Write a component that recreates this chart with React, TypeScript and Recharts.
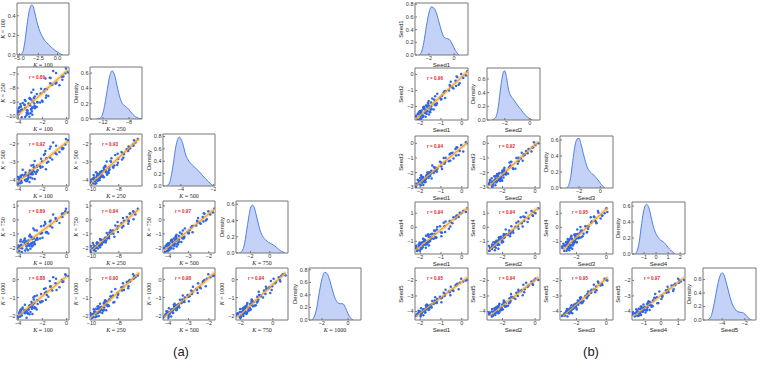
import React from "react";
import { ScatterChart, Scatter, ComposedChart, Area, XAxis, YAxis } from "recharts";

// ---- panel (a): values per K ----
const k100 = [-3.71, -4.02, -3.31, -3.91, -3.07, -4.03, -3.43, -2.99, -3.75, -3.15,
  -3.91, -3.28, -2.63, -3.47, -2.87, -3.79, -2.95, -3.15, -2.66, -3.39,
  -2.84, -3.63, -2.55, -2.79, -3.07, -2.19, -3.04, -2.43, -1.71, -2.91,
  -2.03, -2.46, -1.51, -2.75, -1.67, -2.11, -1.19, -1.79, -1.35, -0.59,
  -1.75, -0.91, -1.32, -0.35, -0.87, -0.27, -1.11, -0.11, 0.12, -0.05,
  -3.98, -3.43, -3.83, -3.19, -3.97, -3.31, -3.67, -2.83, -3.79, -3.22,
  -2.8, -3.5, -2.9, -3.82, -3.01, -2.47, -3.45, -2.67, -2.93, -2.39,
  -3.03, -1.99, -2.71, -2.15, -2.64, -1.63, -1.87, -0.83, -1.39, -0.39];
const k250 = [-10.08, -9.72, -9.93, -9.69, -10.04, -9.62, -9.41, -9.79, -9.55, -9.83,
  -9.37, -9.58, -9.44, -9.2, -9.66, -9.3, -9.48, -9.09, -9.27, -8.92,
  -9.37, -9.06, -9.33, -8.95, -8.74, -9.02, -8.71, -8.99, -8.68, -8.32,
  -8.88, -8.43, -8.57, -8.11, -8.53, -8.04, -7.76, -8.08, -7.66, -7.8,
  -7.31, -7.69, -7.28, -7.41, -6.92, -7.17, -6.78, -6.95, -6.88, -6.6,
  -9.86, -10.06, -9.65, -9.81, -9.46, -9.76, -9.52, -9.89, -9.33, -9.61,
  -9.4, -9.17, -9.55, -9.13, -9.24, -9.35, -8.85, -9.1, -8.81, -9.03,
  -8.78, -8.97, -8.7, -8.39, -8.6, -8.06, -8.25, -7.62, -7.27, -7.2];
const k500 = [-4.15, -4.23, -3.98, -4.05, -4.12, -3.85, -4.03, -3.88, -4.07, -3.73,
  -3.9, -3.75, -3.96, -3.77, -3.58, -3.83, -3.7, -3.86, -3.55, -3.6,
  -3.68, -3.45, -3.66, -3.5, -3.63, -3.25, -3.48, -3.22, -3.42, -3.2,
  -2.98, -3.28, -3.0, -3.18, -2.8, -2.83, -2.87, -2.55, -2.78, -2.45,
  -2.4, -2.53, -2.15, -2.3, -2.1, -2.25, -1.93, -2.03, -1.8, -1.73,
  -4.21, -4.01, -4.19, -3.95, -3.97, -4.08, -3.74, -3.93, -3.78, -4.0,
  -3.69, -3.81, -3.65, -3.84, -3.52, -3.57, -3.72, -3.35, -3.61, -3.47,
  -3.59, -3.27, -3.3, -3.33, -2.95, -3.05, -2.62, -2.58, -2.27, -2.22];
const k750 = [-2.29, -2.02, -2.05, -2.23, -1.87, -2.0, -1.72, -2.06, -1.78, -1.81,
  -1.96, -1.6, -1.75, -1.63, -1.9, -1.42, -1.69, -1.48, -1.73, -1.5,
  -1.36, -1.57, -1.44, -1.61, -1.18, -1.33, -1.15, -1.3, -0.91, -1.2,
  -0.94, -0.76, -0.97, -0.61, -0.88, -0.46, -0.55, -0.16, -0.43, -0.22,
  -0.28, 0.14, -0.04, 0.2, 0.05, 0.47, 0.38, 0.62, 0.53, 0.8,
  -2.03, -2.19, -1.99, -2.17, -1.84, -1.89, -2.04, -1.65, -1.82, -1.68,
  -1.86, -1.46, -1.7, -1.54, -1.77, -1.38, -1.34, -1.59, -1.24, -1.41,
  -1.06, -1.28, -1.32, -0.99, -0.74, -0.86, -0.41, -0.07, -0.12, 0.44];
const k1000 = [-2.0, -2.1, -2.13, -1.9, -1.93, -2.05, -1.78, -1.8, -1.88, -1.65,
  -1.82, -1.85, -1.6, -1.86, -1.62, -1.66, -1.48, -1.68, -1.53, -1.7,
  -1.35, -1.55, -1.58, -1.38, -1.45, -1.23, -1.47, -1.15, -1.12, -1.25,
  -1.2, -0.88, -0.95, -1.0, -0.68, -0.8, -0.6, -0.75, -0.4, -0.43,
  -0.48, -0.2, -0.37, -0.13, 0.05, -0.1, 0.13, 0.3, 0.2, 0.23,
  -2.08, -1.87, -2.06, -1.9, -2.02, -1.76, -1.64, -1.91, -1.72, -1.84,
  -1.58, -1.71, -1.5, -1.74, -1.52, -1.67, -1.4, -1.3, -1.49, -1.36,
  -1.43, -1.21, -1.1, -1.27, -0.92, -0.86, -0.52, -0.57, -0.08, -0.02];

// ---- panel (b): values per seed ----
const seed1 = [-2.15, -2.23, -1.98, -2.05, -2.12, -1.85, -2.03, -1.88, -2.07, -1.73,
  -1.9, -1.75, -1.96, -1.77, -1.58, -1.83, -1.7, -1.86, -1.55, -1.6,
  -1.68, -1.45, -1.66, -1.5, -1.63, -1.25, -1.48, -1.22, -1.42, -1.2,
  -0.98, -1.28, -1.0, -1.18, -0.8, -0.83, -0.87, -0.55, -0.78, -0.45,
  -0.4, -0.53, -0.15, -0.3, -0.1, -0.25, 0.07, -0.03, 0.2, 0.27,
  -2.21, -2.01, -2.19, -1.95, -1.97, -2.08, -1.74, -1.93, -1.78, -2.0,
  -1.69, -1.81, -1.65, -1.84, -1.52, -1.57, -1.72, -1.35, -1.61, -1.47,
  -1.59, -1.27, -1.3, -1.33, -0.95, -1.05, -0.62, -0.58, -0.27, -0.22];
const seed2 = [-2.82, -2.62, -2.65, -2.83, -2.47, -2.6, -2.32, -2.66, -2.38, -2.41,
  -2.56, -2.2, -2.35, -2.23, -2.5, -2.02, -2.29, -2.08, -2.33, -2.1,
  -1.96, -2.17, -2.04, -2.21, -1.78, -1.93, -1.75, -1.9, -1.51, -1.8,
  -1.54, -1.36, -1.57, -1.21, -1.48, -1.06, -1.15, -0.76, -1.03, -0.82,
  -0.88, -0.46, -0.64, -0.4, -0.55, -0.13, -0.22, 0.02, -0.07, 0.2,
  -2.63, -2.79, -2.59, -2.77, -2.44, -2.49, -2.64, -2.25, -2.42, -2.28,
  -2.46, -2.06, -2.3, -2.14, -2.37, -1.98, -1.94, -2.19, -1.84, -2.01,
  -1.66, -1.88, -1.92, -1.59, -1.34, -1.46, -1.01, -0.67, -0.72, -0.16];
const seed3 = [-2.81, -2.96, -2.6, -2.78, -2.48, -2.84, -2.57, -2.39, -2.66, -2.42,
  -2.69, -2.45, -2.18, -2.5, -2.24, -2.55, -2.21, -2.3, -2.09, -2.36,
  -2.15, -2.4, -2.0, -2.06, -2.13, -1.79, -2.04, -1.82, -1.52, -1.94,
  -1.58, -1.7, -1.31, -1.73, -1.28, -1.4, -1.01, -1.19, -0.98, -0.65,
  -1.04, -0.68, -0.8, -0.38, -0.53, -0.26, -0.56, -0.11, 0.07, 0.01,
  -2.95, -2.66, -2.76, -2.51, -2.87, -2.53, -2.63, -2.28, -2.65, -2.37,
  -2.26, -2.47, -2.19, -2.58, -2.23, -1.98, -2.33, -2.03, -2.11, -1.88,
  -2.07, -1.67, -1.91, -1.64, -1.76, -1.26, -1.22, -0.74, -0.83, -0.29];
const seed4 = [-1.68, -1.36, -1.54, -1.33, -1.63, -1.27, -1.09, -1.42, -1.21, -1.45,
  -1.06, -1.24, -1.12, -0.91, -1.3, -1.0, -1.15, -0.82, -0.97, -0.67,
  -1.03, -0.79, -1.08, -0.7, -0.52, -0.76, -0.49, -0.73, -0.46, -0.16,
  -0.64, -0.25, -0.37, 0.02, -0.34, 0.08, 0.32, 0.05, 0.41, 0.29,
  0.71, 0.38, 0.74, 0.62, 1.04, 0.83, 1.16, 1.0, 1.08, 1.35,
  -1.48, -1.66, -1.31, -1.47, -1.17, -1.39, -1.22, -1.52, -1.02, -1.26,
  -1.08, -0.88, -1.19, -0.84, -0.95, -1.04, -0.61, -0.81, -0.56, -0.78,
  -0.53, -0.71, -0.47, -0.22, -0.39, 0.07, -0.1, 0.44, 0.77, 0.84];
const seed5 = [-4.2, -4.3, -4.33, -4.1, -4.13, -4.25, -3.98, -4.0, -4.08, -3.85,
  -4.02, -4.05, -3.8, -4.06, -3.82, -3.86, -3.68, -3.88, -3.73, -3.9,
  -3.55, -3.75, -3.78, -3.58, -3.65, -3.43, -3.67, -3.35, -3.32, -3.45,
  -3.4, -3.08, -3.15, -3.2, -2.88, -3.0, -2.8, -2.95, -2.6, -2.63,
  -2.68, -2.4, -2.57, -2.33, -2.15, -2.3, -2.07, -1.9, -2.0, -1.97,
  -4.28, -4.07, -4.26, -4.1, -4.22, -3.96, -3.84, -4.11, -3.92, -4.04,
  -3.78, -3.91, -3.7, -3.94, -3.72, -3.87, -3.6, -3.5, -3.69, -3.56,
  -3.63, -3.41, -3.3, -3.47, -3.12, -3.06, -2.72, -2.77, -2.28, -2.22];

const kNames = ["K = 100", "K = 250", "K = 500", "K = 750", "K = 1000"];
const seedNames = ["Seed1", "Seed2", "Seed3", "Seed4", "Seed5"];

// correlation labels, lower triangle by row
const rA = [["0.89"], ["0.92", "0.93"], ["0.89", "0.94", "0.97"], ["0.88", "0.90", "0.98", "0.94"]];
const rB = [["0.96"], ["0.94", "0.92"], ["0.94", "0.94", "0.95"], ["0.95", "0.94", "0.95", "0.97"]];

// fitted lines [x0, y0, x1, y1]
const fitA = [
  [[-4, -9.88, 0.1, -6.72]],
  [[-4, -4.11, 0.1, -1.86], [-10, -4.2, -6.5, -1.7]],
  [[-4, -2.1, 0.1, 0.61], [-10, -2.2, -6.5, 0.8], [-4.2, -2.2, -1.7, 0.8]],
  [[-4, -2.01, 0.1, 0.24], [-10, -2.1, -6.5, 0.4], [-4.2, -2.1, -1.7, 0.4], [-2.2, -2.1, 0.8, 0.4]],
];
const fitB = [
  [[-2.2, -2.8, 0.3, 0.2]],
  [[-2.2, -2.9, 0.3, 0.1], [-2.8, -2.9, 0.2, 0.1]],
  [[-2.2, -1.6, 0.3, 1.4], [-2.8, -1.6, 0.2, 1.4], [-2.9, -1.6, 0.1, 1.4]],
  [[-2.2, -4.3, 0.3, -1.8], [-2.8, -4.3, 0.2, -1.8], [-2.9, -4.3, 0.1, -1.8], [-1.6, -4.3, 1.4, -1.8]],
];

// density curves on the diagonal [x, density]
const densK100 = [[-5.0, 0], [-4.6, 0.02], [-4.3, 0.12], [-4.0, 0.3], [-3.7, 0.45], [-3.4, 0.51], [-3.2, 0.5], [-3.0, 0.44], [-2.7, 0.34], [-2.4, 0.26], [-2.0, 0.19], [-1.6, 0.14], [-1.2, 0.11], [-0.8, 0.08], [-0.4, 0.05], [0, 0.03], [0.4, 0.01], [0.7, 0]];
const densK250 = [[-13.0, 0], [-12.5, 0.01], [-12.0, 0.08], [-11.5, 0.3], [-11.0, 0.55], [-10.6, 0.63], [-10.2, 0.57], [-9.8, 0.42], [-9.4, 0.28], [-9.0, 0.2], [-8.6, 0.17], [-8.2, 0.14], [-7.8, 0.1], [-7.4, 0.06], [-7.0, 0.03], [-6.5, 0.01], [-6.1, 0]];
const densK500 = [[-4.9, 0], [-4.7, 0.05], [-4.5, 0.3], [-4.3, 0.65], [-4.1, 0.79], [-3.9, 0.7], [-3.7, 0.5], [-3.5, 0.4], [-3.3, 0.34], [-3.1, 0.29], [-2.9, 0.24], [-2.7, 0.18], [-2.5, 0.12], [-2.3, 0.07], [-2.1, 0.02], [-2.0, 0]];
const densK750 = [[-3.2, 0], [-2.9, 0.02], [-2.6, 0.12], [-2.3, 0.35], [-2.0, 0.55], [-1.8, 0.59], [-1.6, 0.56], [-1.4, 0.47], [-1.2, 0.37], [-1.0, 0.28], [-0.7, 0.2], [-0.4, 0.16], [-0.1, 0.13], [0.2, 0.11], [0.5, 0.09], [0.8, 0.06], [1.1, 0.03], [1.4, 0.01], [1.6, 0]];
const densK1000 = [[-2.8, 0], [-2.6, 0.05], [-2.4, 0.2], [-2.2, 0.45], [-2.0, 0.66], [-1.8, 0.76], [-1.6, 0.74], [-1.4, 0.63], [-1.2, 0.48], [-1.0, 0.35], [-0.8, 0.28], [-0.6, 0.26], [-0.4, 0.26], [-0.2, 0.2], [0.0, 0.1], [0.2, 0.03], [0.4, 0]];
const densSeed1 = [[-2.8, 0], [-2.6, 0.04], [-2.4, 0.2], [-2.2, 0.45], [-2.0, 0.66], [-1.8, 0.76], [-1.6, 0.74], [-1.4, 0.66], [-1.2, 0.52], [-1.0, 0.38], [-0.8, 0.28], [-0.6, 0.26], [-0.4, 0.25], [-0.2, 0.19], [0.0, 0.11], [0.2, 0.04], [0.4, 0]];
const densSeed2 = [[-3.0, 0], [-2.7, 0.04], [-2.5, 0.2], [-2.3, 0.5], [-2.1, 0.7], [-2.0, 0.72], [-1.85, 0.62], [-1.7, 0.45], [-1.5, 0.35], [-1.3, 0.3], [-1.0, 0.22], [-0.7, 0.15], [-0.4, 0.08], [-0.1, 0.03], [0.2, 0]];
const densSeed3 = [[-3.2, 0], [-3.0, 0.03], [-2.8, 0.13], [-2.6, 0.33], [-2.4, 0.52], [-2.2, 0.61], [-2.0, 0.62], [-1.8, 0.54], [-1.6, 0.43], [-1.4, 0.33], [-1.2, 0.25], [-1.0, 0.21], [-0.8, 0.18], [-0.6, 0.16], [-0.4, 0.13], [-0.2, 0.1], [0.0, 0.06], [0.2, 0.03], [0.4, 0]];
const densSeed4 = [[-1.8, 0], [-1.6, 0.03], [-1.4, 0.15], [-1.2, 0.38], [-1.0, 0.56], [-0.8, 0.62], [-0.6, 0.58], [-0.4, 0.45], [-0.2, 0.33], [0.0, 0.25], [0.2, 0.2], [0.4, 0.17], [0.6, 0.15], [0.8, 0.12], [1.0, 0.08], [1.2, 0.05], [1.4, 0.02], [1.6, 0]];
const densSeed5 = [[-5.3, 0], [-5.0, 0.05], [-4.7, 0.25], [-4.4, 0.52], [-4.2, 0.65], [-4.0, 0.7], [-3.8, 0.65], [-3.6, 0.53], [-3.4, 0.4], [-3.2, 0.28], [-3.0, 0.2], [-2.8, 0.15], [-2.6, 0.12], [-2.4, 0.115], [-2.2, 0.11], [-2.0, 0.09], [-1.8, 0.05], [-1.6, 0.02], [-1.4, 0]];

type Ax = { domain: [number, number]; ticks: number[]; dec?: number };

// axis ranges used in the scatter panels (x by column, y by row)
const xAxA: Ax[] = [
  { domain: [-4.1, 0.2], ticks: [-4, -2, 0] },
  { domain: [-10.1, -6.3], ticks: [-10, -8] },
  { domain: [-4.25, -1.7], ticks: [-4, -3, -2] },
  { domain: [-2.3, 0.95], ticks: [-2, 0] },
];
const yAxA: Ax[] = [
  { domain: [0, 1], ticks: [] },
  { domain: [-10.2, -6.5], ticks: [-10, -9, -8, -7] },
  { domain: [-4.35, -1.45], ticks: [-4, -3, -2] },
  { domain: [-2.37, 1.35], ticks: [-2, -1, 0, 1] },
  { domain: [-2.25, 0.65], ticks: [-2, -1, 0] },
];
const xAxB: Ax[] = [
  { domain: [-2.25, 0.3], ticks: [-2, -1, 0] },
  { domain: [-2.95, 0.3], ticks: [-2, 0] },
  { domain: [-3.1, 0.45], ticks: [-2, 0] },
  { domain: [-1.7, 1.4], ticks: [-1, 0, 1] },
];
const yAxB: Ax[] = [
  { domain: [0, 1], ticks: [] },
  { domain: [-2.85, 0.4], ticks: [-2, -1, 0] },
  { domain: [-3.05, 0.5], ticks: [-3, -2, -1, 0] },
  { domain: [-1.9, 1.8], ticks: [-1, 0, 1] },
  { domain: [-4.55, -1.2], ticks: [-4, -3, -2] },
];
const dAxA: { x: Ax; y: Ax }[] = [
  { x: { domain: [-5.3, 1.5], ticks: [-5, -2.5, 0], dec: 1 }, y: { domain: [0, 0.53], ticks: [0, 0.2, 0.4], dec: 1 } },
  { x: { domain: [-14, -6], ticks: [-12, -8] }, y: { domain: [0, 0.68], ticks: [0, 0.2, 0.4, 0.6], dec: 1 } },
  { x: { domain: [-5.1, -1.9], ticks: [-4, -2] }, y: { domain: [0, 0.84], ticks: [0, 0.2, 0.4, 0.6, 0.8], dec: 1 } },
  { x: { domain: [-3.5, 1.9], ticks: [-2, 0] }, y: { domain: [0, 0.64], ticks: [0, 0.2, 0.4, 0.6], dec: 1 } },
  { x: { domain: [-3, 1], ticks: [-2, 0] }, y: { domain: [0, 0.83], ticks: [0, 0.2, 0.4, 0.6, 0.8], dec: 1 } },
];
const dAxB: { x: Ax; y: Ax }[] = [
  { x: { domain: [-3.1, 1.1], ticks: [-2, 0] }, y: { domain: [0, 0.82], ticks: [0, 0.2, 0.4, 0.6, 0.8], dec: 1 } },
  { x: { domain: [-3.4, 0.8], ticks: [-2, 0] }, y: { domain: [0, 0.76], ticks: [0, 0.2, 0.4, 0.6], dec: 1 } },
  { x: { domain: [-3.8, 1.2], ticks: [-2, 0] }, y: { domain: [0, 0.65], ticks: [0, 0.2, 0.4, 0.6], dec: 1 } },
  { x: { domain: [-2, 2.4], ticks: [-1, 0, 1, 2] }, y: { domain: [0, 0.65], ticks: [0, 0.2, 0.4, 0.6], dec: 1 } },
  { x: { domain: [-5.7, -1], ticks: [-4, -2] }, y: { domain: [0, 0.77], ticks: [0, 0.2, 0.4, 0.6], dec: 1 } },
];

const SANS = "'Liberation Sans', Arial, sans-serif";
const SERIF = "'Liberation Serif', 'Times New Roman', serif";
const FRAME = "#777";
const BLUE = "#2f66e6";
const WY = 20;
const HX = 13;

const fmt = (dec = 0) => (v: number) => Number(v).toFixed(dec).replace("-", "\u2212");

const nameNode = (name: string) =>
  name.startsWith("K = ") ? (
    <span style={{ fontFamily: SERIF }}>
      <i>K</i>
      {name.slice(1)}
    </span>
  ) : (
    <span style={{ fontFamily: SANS }}>{name}</span>
  );

const xTick = (dec?: number) => (p: any) => (
  <text x={p.x} y={p.y} dy={4} textAnchor="middle" fontSize={5.5} fill="#333" fontFamily={SANS}>
    {fmt(dec)(p.payload.value)}
  </text>
);
const yTick = (dec?: number) => (p: any) => (
  <text x={p.x} y={p.y} dy={2} textAnchor="end" fontSize={5.5} fill="#333" fontFamily={SANS}>
    {fmt(dec)(p.payload.value)}
  </text>
);

function axes(xa: Ax, ya: Ax, yKey: string) {
  return [
    <XAxis key="xb" dataKey="x" type="number" domain={xa.domain} ticks={xa.ticks} allowDataOverflow interval={0}
      height={HX} stroke={FRAME} tickSize={-2} tickMargin={3} tick={xTick(xa.dec)} />,
    <XAxis key="xt" xAxisId="top" orientation="top" type="number" domain={xa.domain} ticks={xa.ticks} allowDataOverflow
      interval={0} height={1} stroke={FRAME} tickSize={-2} tick={false} />,
    <YAxis key="yl" dataKey={yKey} type="number" domain={ya.domain} ticks={ya.ticks} allowDataOverflow interval={0}
      width={WY} stroke={FRAME} tickSize={-2} tickMargin={3.5} tick={yTick(ya.dec)} />,
    <YAxis key="yr" yAxisId="right" orientation="right" type="number" domain={ya.domain} ticks={ya.ticks} allowDataOverflow
      interval={0} width={1} stroke={FRAME} tickSize={-2} tick={false} />,
  ];
}

function Frame({ left, top, w, h, xName, yName, children }: any) {
  const lab = { position: "absolute" as const, fontSize: 6, color: "#222", whiteSpace: "nowrap" as const, lineHeight: 1 };
  return (
    <>
      <div style={{ position: "absolute", left: left - WY, top: top - 1 }}>{children}</div>
      <div style={{ ...lab, left: left + w / 2, top: top + h + 9.5, transform: "translate(-50%,-50%)" }}>{nameNode(xName)}</div>
      <div style={{ ...lab, left: left - 14.5, top: top + h / 2, transform: "translate(-50%,-50%) rotate(-90deg)" }}>{nameNode(yName)}</div>
    </>
  );
}

const dot = (p: any) => <circle cx={p.cx} cy={p.cy} r={1.25} fill={BLUE} />;
const none = () => <g />;

function ScatterPanel({ left, top, w, h, xs, ys, xa, ya, fit, r, xName, yName }: any) {
  const pts = xs.map((x: number, i: number) => ({ x, y: ys[i] }));
  const line = [{ x: fit[0], y: fit[1] }, { x: fit[2], y: fit[3] }];
  return (
    <Frame left={left} top={top} w={w} h={h} xName={xName} yName={yName}>
      <ScatterChart width={WY + w + 1} height={1 + h + HX} margin={{ top: 0, right: 0, bottom: 0, left: 0 }}>
        {axes(xa, ya, "y")}
        <Scatter data={line} shape={none} line={{ stroke: "#fcd9a6", strokeWidth: 4, strokeOpacity: 0.85 }} isAnimationActive={false} />
        <Scatter data={pts} shape={dot} isAnimationActive={false} />
        <Scatter data={line} shape={none} line={{ stroke: "#f4a428", strokeWidth: 1.2 }} isAnimationActive={false} />
      </ScatterChart>
      <div style={{ position: "absolute", left: WY + 20, top: 11, transform: "translate(-50%,-50%)", fontSize: 4.6,
        color: "#e8262b", fontFamily: SANS, whiteSpace: "nowrap", fontWeight: 600 }}>{`r = ${r}`}</div>
    </Frame>
  );
}

function DensityPanel({ left, top, w, h, dens, ax, xName, yName }: any) {
  const data = dens.map(([x, d]: number[]) => ({ x, d }));
  return (
    <Frame left={left} top={top} w={w} h={h} xName={xName} yName={yName}>
      <ComposedChart width={WY + w + 1} height={1 + h + HX} data={data} margin={{ top: 0, right: 0, bottom: 0, left: 0 }}>
        {axes(ax.x, ax.y, "d")}
        <Area dataKey="d" type="monotone" stroke="#4f7fe6" strokeWidth={1} fill="#c3d2f6" fillOpacity={1} isAnimationActive={false} />
      </ComposedChart>
    </Frame>
  );
}

function Grid({ vars, names, firstY, xAx, yAx, dens, dAx, fits, rs, cols, rows, w, h }: any) {
  const out: any[] = [];
  for (let i = 0; i < 5; i++) {
    for (let j = 0; j <= i; j++) {
      const key = `${i}-${j}`;
      if (i === j) {
        out.push(
          <DensityPanel key={key} left={cols[j]} top={rows[i]} w={w} h={h} dens={dens[i]} ax={dAx[i]}
            xName={names[i]} yName={i === 0 ? firstY : "Density"} />
        );
      } else {
        out.push(
          <ScatterPanel key={key} left={cols[j]} top={rows[i]} w={w} h={h} xs={vars[j]} ys={vars[i]}
            xa={xAx[j]} ya={yAx[i]} fit={fits[i - 1][j]} r={rs[i - 1][j]} xName={names[j]} yName={names[i]} />
        );
      }
    }
  }
  return <>{out}</>;
}

export default function App() {
  const caption = { position: "absolute" as const, fontSize: 13, fontFamily: SANS, color: "#222", transform: "translate(-50%,-50%)" };
  return (
    <div style={{ position: "absolute", left: 0, top: 0, width: 761, height: 368, background: "#fff", overflow: "hidden" }}>
      <Grid vars={[k100, k250, k500, k750, k1000]} names={kNames} firstY="K = 100" xAx={xAxA} yAx={yAxA}
        dens={[densK100, densK250, densK500, densK750, densK1000]} dAx={dAxA} fits={fitA} rs={rA}
        cols={[17, 90, 163, 236, 309]} rows={[3, 67, 134, 201, 268]} w={52} h={52} />
      <Grid vars={[seed1, seed2, seed3, seed4, seed5]} names={seedNames} firstY="Seed1" xAx={xAxB} yAx={yAxB}
        dens={[densSeed1, densSeed2, densSeed3, densSeed4, densSeed5]} dAx={dAxB} fits={fitB} rs={rB}
        cols={[415, 487, 560, 632, 703]} rows={[3, 68, 136, 202, 268]} w={53} h={52} />
      <div style={{ ...caption, left: 181, top: 351 }}>(a)</div>
      <div style={{ ...caption, left: 591, top: 351 }}>(b)</div>
    </div>
  );
}
